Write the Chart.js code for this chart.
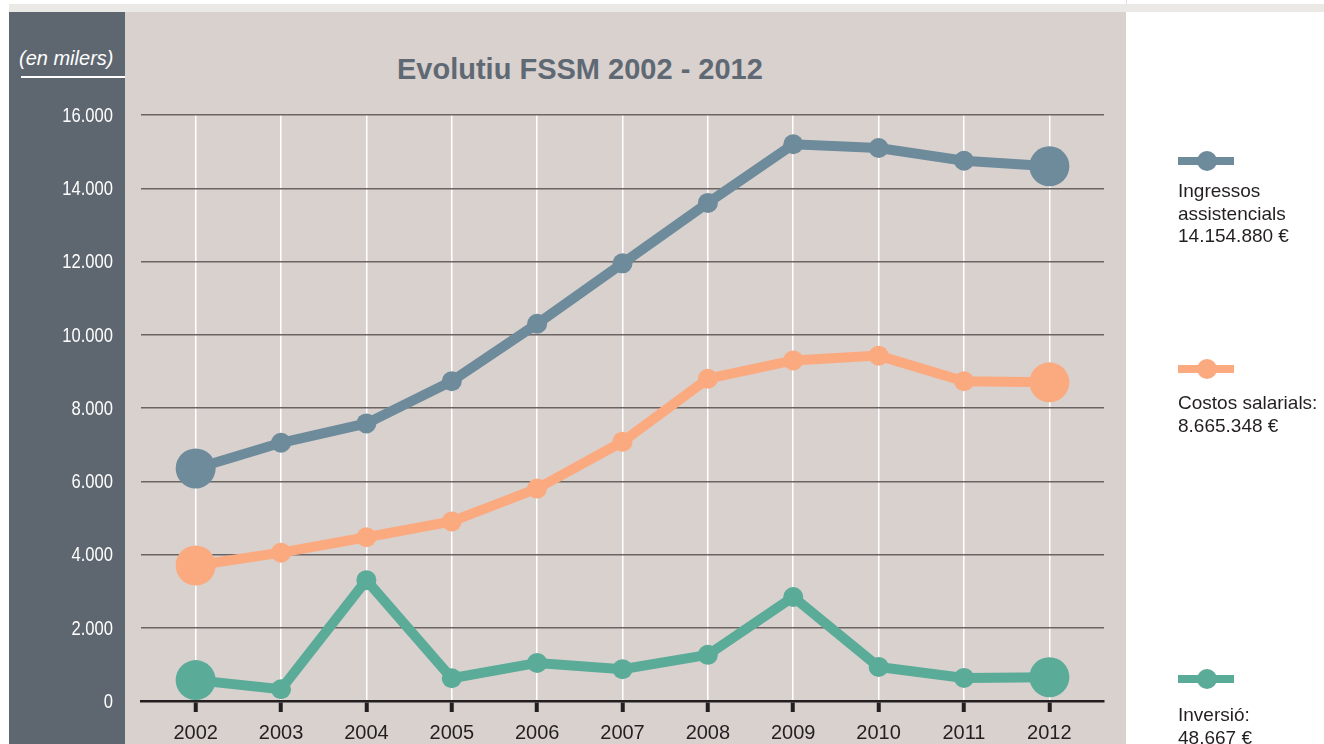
<!DOCTYPE html>
<html>
<head>
<meta charset="utf-8">
<script src="https://cdn.jsdelivr.net/npm/chart.js@4.4.1/dist/chart.umd.min.js"></script>
<style>
  html, body { margin: 0; padding: 0; background: #ffffff; }
  body { width: 1324px; height: 744px; position: relative; overflow: hidden; font-family: 'Liberation Sans', Arial, sans-serif; }
  .abs { position: absolute; }
  #strip { left: 9px; top: 4px; width: 1315px; height: 8px; background: #ebe9e5; }
  #sep { left: 1126px; top: 0; width: 1px; height: 4px; background: #e2dfda; }
  #panel { left: 9px; top: 12px; width: 116px; height: 732px; background: #5e6670; }
  #plotbg { left: 125px; top: 12px; width: 1001px; height: 732px; background: #d9d1ce; }
  #units { left: 19px; top: 48px; font-size: 20px; line-height: 20px; font-style: italic; color: #ffffff; white-space: nowrap; }
  #units-rule { left: 21px; top: 76px; width: 104px; height: 2px; background: #ffffff; }
  #title { left: 397px; top: 55px; font-size: 29px; line-height: 29px; font-weight: bold; color: #5f6974; white-space: nowrap; }
  #chart-wrap { left: 0; top: 0; width: 1324px; height: 744px; }
  .lg-bar { width: 56px; height: 8px; }
  .lg-dot { width: 20px; height: 20px; border-radius: 50%; }
  .lg-text { font-size: 19px; line-height: 22.5px; color: #231f20; white-space: nowrap; }
</style>
</head>
<body>
<div id="strip" class="abs"></div>
<div id="sep" class="abs"></div>
<div id="panel" class="abs"></div>
<div id="plotbg" class="abs"></div>
<div id="units" class="abs">(en milers)</div>
<div id="units-rule" class="abs"></div>
<div id="title" class="abs">Evolutiu FSSM 2002 - 2012</div>
<div id="chart-wrap" class="abs"><canvas id="c" width="1324" height="744"></canvas></div>
<div id="legend"></div>

<script>
// --- data (thousands of euros) ---
var years = [2002, 2003, 2004, 2005, 2006, 2007, 2008, 2009, 2010, 2011, 2012];
var ingressos = [6350, 7050, 7580, 8730, 10300, 11950, 13600, 15200, 15100, 14750, 14600];
var costos = [3700, 4050, 4470, 4900, 5800, 7080, 8800, 9300, 9430, 8730, 8700];
var inversio = [570, 320, 3300, 620, 1040, 870, 1260, 2840, 930, 630, 650];
var yTicks = [0, 2000, 4000, 6000, 8000, 10000, 12000, 14000, 16000];

var seriesNames = ['Ingressos assistencials', 'Costos salarials', 'Inversió'];
var legendLines = [['Ingressos', 'assistencials', '14.154.880 €'], ['Costos salarials:', '8.665.348 €'], ['Inversió:', '48.667 €']];
var seriesColors = ['#6e8b9b', '#fbaa80', '#5aab98'];
var legendY = [161, 369, 679];
var legendTextTop = [180, 392, 704];

function fmtThousands(v) {
  return String(v).replace(/\B(?=(\d{3})+(?!\d))/g, '.');
}

function pts(values) {
  return values.map(function (v, i) { return { x: years[i], y: v }; });
}

function radii() {
  return years.map(function (_, i) { return (i === 0 || i === years.length - 1) ? 20 : 10; });
}

function makeDataset(idx, values) {
  return {
    label: seriesNames[idx],
    data: pts(values),
    borderColor: seriesColors[idx],
    backgroundColor: seriesColors[idx],
    pointBackgroundColor: seriesColors[idx],
    pointBorderWidth: 0,
    pointRadius: radii(),
    pointHoverRadius: radii(),
    borderWidth: 10,
    tension: 0,
    clip: false
  };
}

// y labels are set in a condensed face in the original; squeeze them horizontally
var condensedYLabels = {
  id: 'condensedYLabels',
  afterDraw: function (chart) {
    var ys = chart.scales.y;
    var ctx = chart.ctx;
    ctx.save();
    ctx.font = "21px 'Liberation Sans', Arial, sans-serif";
    ctx.fillStyle = '#ffffff';
    ctx.textAlign = 'right';
    ctx.textBaseline = 'middle';
    ys.ticks.forEach(function (t) {
      var py = ys.getPixelForValue(t.value);
      ctx.save();
      ctx.translate(ys.right - 28, py + 1);
      ctx.scale(0.79, 1);
      ctx.fillText(fmtThousands(t.value), 0, 0);
      ctx.restore();
    });
    ctx.restore();
  }
};

new Chart(document.getElementById('c').getContext('2d'), {
  type: 'line',
  data: {
    datasets: [makeDataset(0, ingressos), makeDataset(1, costos), makeDataset(2, inversio)]
  },
  options: {
    responsive: false,
    animation: false,
    events: [],
    layout: { padding: { left: 0, top: 115, right: 220, bottom: 0 } },
    plugins: { legend: { display: false }, title: { display: false }, tooltip: { enabled: false } },
    scales: {
      x: {
        type: 'linear',
        min: 2001.36,
        max: 2012.64,
        afterBuildTicks: function (scale) { scale.ticks = years.map(function (y) { return { value: y }; }); },
        afterFit: function (scale) { scale.height = 43; },
        grid: { color: '#ffffff', lineWidth: 1.5, drawTicks: true, tickLength: 11, tickWidth: 4, tickColor: '#231f20' },
        border: { display: true, color: '#231f20', width: 2.5 },
        ticks: {
          padding: 9,
          color: '#231f20',
          font: { family: "'Liberation Sans', Arial, sans-serif", size: 20 },
          maxRotation: 0,
          autoSkip: false,
          callback: function (v) { return String(v); }
        }
      },
      y: {
        min: 0,
        max: 16000,
        afterBuildTicks: function (scale) { scale.ticks = yTicks.map(function (v) { return { value: v }; }); },
        afterFit: function (scale) { scale.width = 141; },
        grid: { color: '#6b6562', lineWidth: 1.5, drawTicks: false },
        border: { display: false },
        ticks: { display: false }
      }
    }
  },
  plugins: [condensedYLabels]
});

// legend markers and labels
var legendEl = document.getElementById('legend');
seriesColors.forEach(function (col, i) {
  var cy = legendY[i];
  var bar = document.createElement('div');
  bar.className = 'abs lg-bar';
  bar.style.left = '1178px';
  bar.style.top = (cy - 4) + 'px';
  bar.style.background = col;
  legendEl.appendChild(bar);
  var dot = document.createElement('div');
  dot.className = 'abs lg-dot';
  dot.style.left = '1197px';
  dot.style.top = (cy - 10) + 'px';
  dot.style.background = col;
  legendEl.appendChild(dot);
  var txt = document.createElement('div');
  txt.className = 'abs lg-text';
  txt.style.left = '1178px';
  txt.style.top = legendTextTop[i] + 'px';
  txt.innerHTML = legendLines[i].join('<br>');
  legendEl.appendChild(txt);
});
</script>
</body>
</html>
